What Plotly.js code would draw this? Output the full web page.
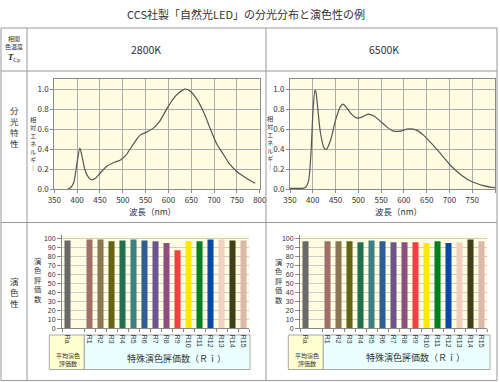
<!DOCTYPE html>
<html><head><meta charset="utf-8">
<script src="https://cdn.plot.ly/plotly-3.0.1.min.js"></script>
<style>html,body{margin:0;padding:0;background:#fff}#chart{width:500px;height:382px}</style>
</head><body><div id="chart"></div>
<script>
// ---------------- data ----------------
const titleText = "CCS社製「自然光LED」の分光分布と演色性の例";
const headerLabels = ["2800K", "6500K"];

const wl2800 = [378,384,392,400,406,412,418,425,432,440,450,465,479,494,505,523,538,552,567,581,596,610,625,636,647,662,676,691,705,720,735,749,764,778,790];
const e2800  = [0,0.01,0.06,0.27,0.41,0.30,0.18,0.12,0.095,0.11,0.16,0.23,0.265,0.29,0.33,0.45,0.54,0.57,0.61,0.68,0.80,0.90,0.97,1.0,0.98,0.90,0.78,0.61,0.46,0.35,0.245,0.18,0.13,0.09,0.06];

const wl6500 = [350,370,380,386,391,396,401,405,407,410,417,425,430,439,450,460,466,475,486,497,508,522,534,548,563,577,592,607,621,632,643,658,672,687,701,716,731,745,760,775,790,800];
const e6500  = [0.01,0.01,0.012,0.03,0.09,0.36,0.82,0.99,0.97,0.85,0.56,0.41,0.40,0.49,0.69,0.82,0.85,0.81,0.745,0.71,0.72,0.75,0.73,0.68,0.62,0.58,0.58,0.60,0.60,0.58,0.54,0.47,0.40,0.32,0.245,0.18,0.125,0.085,0.058,0.037,0.022,0.017];

const categories = ["Ra","gap","R1","R2","R3","R4","R5","R6","R7","R8","R9","R10","R11","R12","R13","R14","R15"];
const tickLabels = ["Ra","R1","R2","R3","R4","R5","R6","R7","R8","R9","R10","R11","R12","R13","R14","R15"];
const cri2800 = [98,null,99,99,97,98,99,98,97,95,87,97,97,99,99,98,98];
const cri6500 = [97,null,97,97,97,96,98,97,96,96,96,95,97,95,96,99,97];
const barColors = ["#6a6a6a","#ffffff","#a07068","#8c7552","#646414","#21704f","#3d7f84","#2e5f92","#6b5590","#8c5080","#f04040","#ffe800","#008020","#0a48a8","#f0d0c0","#404018","#dcb8a8"];

// ---------------- helpers ----------------
const W = 500, H = 382;
const X = px => px / W;
const Y = py => 1 - py / H;
const JP = "Noto Sans CJK JP";
const TXT = "#333";

function ann(text, px, py, size, extra) {
  return Object.assign({text: text, x: X(px), y: Y(py), xref: "paper", yref: "paper",
    showarrow: false, xanchor: "center", yanchor: "middle",
    font: {size: size, family: JP, color: TXT}}, extra || {});
}
// vertical (stacked) text as one multi-line annotation, centred at (px, pyc)
function vtext(str, px, pyc, size) {
  return ann(Array.from(str).join("<br>"), px, pyc, size);
}
function hline(x0, x1, y, color) {
  return {type: "line", xref: "paper", yref: "paper", x0: X(x0), x1: X(x1), y0: Y(y), y1: Y(y), line: {color: color || "#999", width: 1}};
}
function vline(x, y0, y1, color) {
  return {type: "line", xref: "paper", yref: "paper", x0: X(x), x1: X(x), y0: Y(y0), y1: Y(y1), line: {color: color || "#999", width: 1}};
}
function rect(x0, y0, x1, y1, fill) {
  return {type: "rect", xref: "paper", yref: "paper", x0: X(x0), x1: X(x1), y0: Y(y1), y1: Y(y0), fillcolor: fill, line: {color: "#a8a8a8", width: 1}, layer: "below"};
}

// ---------------- traces ----------------
const traces = [
  {x: wl2800, y: e2800, type: "scatter", mode: "lines", line: {color: "#555", width: 1.2, shape: "spline", smoothing: 0.8}, xaxis: "x", yaxis: "y", hoverinfo: "skip"},
  {x: wl6500, y: e6500, type: "scatter", mode: "lines", line: {color: "#555", width: 1.2, shape: "spline", smoothing: 0.8}, xaxis: "x2", yaxis: "y2", hoverinfo: "skip"},
  {x: categories, y: cri2800, type: "bar", marker: {color: barColors, line: {width: 0}}, xaxis: "x3", yaxis: "y3", hoverinfo: "skip"},
  {x: categories, y: cri6500, type: "bar", marker: {color: barColors, line: {width: 0}}, xaxis: "x4", yaxis: "y4", hoverinfo: "skip"}
];

// ---------------- axes ----------------
function specX(d0, d1, anchor) {
  return {domain: [X(d0), X(d1)], anchor: anchor, range: [350, 800], dtick: 50, tick0: 350,
    showgrid: true, gridcolor: "#ababab", gridwidth: 1, zeroline: false,
    showline: true, mirror: true, linecolor: "#8a8a8a", linewidth: 1,
    ticks: "outside", ticklen: 3, tickcolor: "#8a8a8a",
    tickfont: {size: 8, family: JP, color: TXT}, fixedrange: true};
}
function specY(d0, d1, anchor) {
  return {domain: [Y(d1), Y(d0)], anchor: anchor, range: [0, 1.1], tickvals: [0,0.2,0.4,0.6,0.8,1.0], tickformat: ".1f",
    showgrid: true, gridcolor: "#ababab", gridwidth: 1, zeroline: false,
    showline: true, mirror: true, linecolor: "#8a8a8a", linewidth: 1,
    ticks: "outside", ticklen: 3, tickcolor: "#8a8a8a",
    tickfont: {size: 8, family: JP, color: TXT}, fixedrange: true};
}
function barX(d0, d1, anchor) {
  return {domain: [X(d0), X(d1)], anchor: anchor, type: "category", categoryorder: "array", categoryarray: categories,
    range: [-0.5, 16.5], tickson: "boundaries", ticks: "outside", ticklen: 3, tickcolor: "#888",
    tickvals: tickLabels, ticktext: tickLabels,
    showline: true, linecolor: "#888", linewidth: 1, showgrid: false, tickangle: 90,
    ticklabelstandoff: 4,
    tickfont: {size: 7, family: "Liberation Sans", color: TXT}, fixedrange: true};
}
function barY(d0, d1, anchor) {
  return {domain: [Y(d1), Y(d0)], anchor: anchor, range: [0, 104], tickvals: [0,10,20,30,40,50,60,70,80,90,100],
    showgrid: true, gridcolor: "#cccccc", gridwidth: 1, zeroline: false,
    showline: true, linecolor: "#888", linewidth: 1, ticks: "outside", ticklen: 4, tickcolor: "#888",
    tickfont: {size: 7, family: "Liberation Sans", color: TXT}, fixedrange: true};
}

// ---------------- table lines & cells ----------------
const shapes = [
  hline(1, 497, 28), hline(1, 497, 71), hline(1, 497, 222.5), hline(1, 497, 380.5),
  vline(1, 28, 380.5), vline(497, 28, 380.5), vline(27, 28, 380.5), vline(266, 28, 380.5),
  rect(49.3, 335, 84.3, 369.5, "#ffffd0"), rect(84.3, 335, 250, 369.5, "#ebffff"),
  rect(288.3, 335, 323.3, 369.5, "#ffffd0"), rect(323.3, 335, 490, 369.5, "#ebffff")
];

// ---------------- annotations ----------------
const annotations = [
  ann(titleText, 246, 14, 11),
  ann(headerLabels[0], 146, 50, 10.5),
  ann(headerLabels[1], 384, 50, 10.5),
  ann("相関<br>色温度", 14, 42.5, 6),
  ann("<b><i>T</i></b><sub>Cp</sub>", 14, 57.5, 8.5, {font: {size: 8.5, family: "Liberation Serif", color: "#222"}}),
  ann("波長（nm）", 152, 210.5, 8.5),
  ann("波長（nm）", 398, 211, 8.5),
  ann("平均演色<br>評価数", 67.5, 359, 6),
  ann("平均演色<br>評価数", 306.5, 359, 6),
  ann("特殊演色評価数（Ｒｉ）", 176.7, 358.3, 9),
  ann("特殊演色評価数（Ｒｉ）", 415, 357.5, 9),
  vtext("分光特性", 14, 126.5, 8.5),
  vtext("演色性", 14, 292, 8.5),
  vtext("相対エネルギ｜", 33, 143, 6.2),
  vtext("相対エネルギ｜", 270, 142, 6.2),
  vtext("演色評価数", 38, 280, 7.3),
  vtext("演色評価数", 278.5, 281, 7.3)
];

const layout = {
  width: W, height: H, margin: {l: 0, r: 0, t: 0, b: 0},
  paper_bgcolor: "#ffffff", plot_bgcolor: "#fffde1",
  showlegend: false, bargap: 0.45,
  font: {family: JP, color: TXT},
  xaxis: specX(54.3, 259.8, "y"),
  yaxis: specY(79, 189.3, "x"),
  xaxis2: specX(290, 495, "y2"),
  yaxis2: specY(79, 189.3, "x2"),
  xaxis3: barX(62, 249, "y3"),
  yaxis3: barY(235, 328.3, "x3"),
  xaxis4: barX(300, 487, "y4"),
  yaxis4: barY(235, 328.3, "x4"),
  shapes: shapes,
  annotations: annotations
};

Plotly.newPlot("chart", traces, layout, {staticPlot: true, displayModeBar: false});
</script>
</body></html>
